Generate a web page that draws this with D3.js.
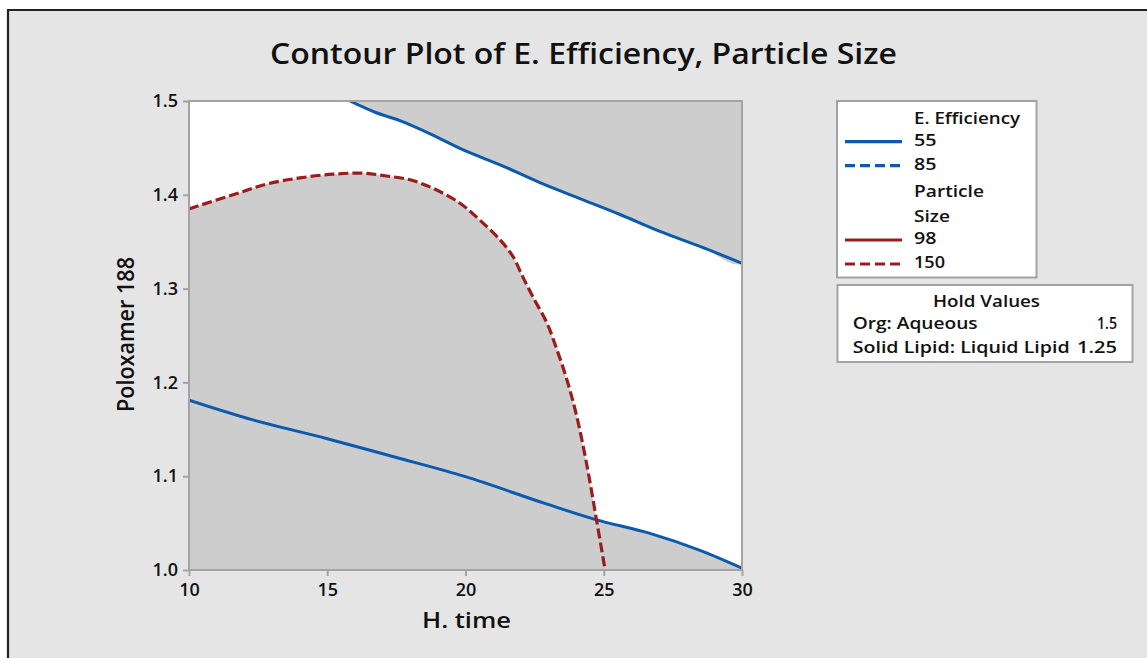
<!DOCTYPE html>
<html><head><meta charset="utf-8">
<script src="https://cdn.jsdelivr.net/npm/d3@7"></script>
<style>
html,body{margin:0;padding:0;background:#fff;}
svg{display:block;}
text{font-family:"Open Sans","Noto Sans",sans-serif;fill:#111;}
</style></head>
<body><svg id="c" width="1147" height="658"></svg>
<script>
// ---- data ----
const title = "Contour Plot of E. Efficiency, Particle Size";
const xLabel = "H. time";
const yLabel = "Poloxamer 188";
const xTicks = [10, 15, 20, 25, 30];
const yTicks = [1.0, 1.1, 1.2, 1.3, 1.4, 1.5];
// E. Efficiency contour (upper line)
const effUpperX = [15.82, 16.73, 17.63, 18.72, 19.98, 21.25, 22.69, 24.14, 25.59, 27.03, 28.48, 30.0];
const effUpperY = [1.500, 1.488, 1.479, 1.465, 1.447, 1.432, 1.413, 1.396, 1.379, 1.361, 1.345, 1.327];
// E. Efficiency contour (lower line)
const effLowerX = [10.0, 12.31, 15.0, 17.5, 20.0, 22.87, 24.68, 26.67, 28.48, 30.0];
const effLowerY = [1.181, 1.160, 1.140, 1.120, 1.0995, 1.071, 1.054, 1.039, 1.021, 1.002];
// Particle Size 150 contour (dashed)
const ps150X = [10.0, 11.59, 12.82, 14.01, 15.21, 16.29, 17.15, 17.99, 18.82, 19.80, 20.52, 21.25, 21.72, 22.08, 22.44, 22.95, 23.31, 23.67, 24.03, 24.42, 24.74, 25.05];
const ps150Y = [1.385, 1.400, 1.4115, 1.418, 1.422, 1.423, 1.420, 1.416, 1.407, 1.391, 1.373, 1.352, 1.334, 1.312, 1.291, 1.263, 1.2345, 1.2026, 1.163, 1.107, 1.053, 1.000];
const legendEff = ["55", "85"];
const legendPS = ["98", "150"];
const holdNames = ["Org: Aqueous", "Solid Lipid: Liquid Lipid"];
const holdVals = ["1.5", "1.25"];

const BLUE = "#0b5aad", RED = "#9b1c1c", GRAY = "#cdcdcd";

const svg = d3.select("#c");
// background frame
svg.append("rect").attr("x", 8).attr("y", 10).attr("width", 1147).attr("height", 658).attr("fill", "#e5e5e5");
svg.append("line").attr("x1", 7).attr("x2", 1147).attr("y1", 10).attr("y2", 10).attr("stroke", "#222").attr("stroke-width", 2.2);
svg.append("line").attr("x1", 8).attr("x2", 8).attr("y1", 9).attr("y2", 658).attr("stroke", "#222").attr("stroke-width", 2.2);

// text helper: fixed width with glyph stretching to mimic the source font
function T(parent, px, py, str, size, width, anchor) {
  const t = parent.append("text").attr("x", px).attr("y", py).attr("font-size", size)
    .attr("font-weight", 600).attr("text-anchor", anchor || "start").text(str);
  if (width) t.attr("textLength", width).attr("lengthAdjust", "spacingAndGlyphs");
  return t;
}

const x = d3.scaleLinear().domain([10, 30]).range([189, 742]);
const y = d3.scaleLinear().domain([1.0, 1.5]).range([570, 101]);

svg.append("defs").append("clipPath").attr("id", "pc")
  .append("rect").attr("x", x(10)).attr("y", y(1.5)).attr("width", x(30) - x(10)).attr("height", y(1.0) - y(1.5));

const g = svg.append("g").attr("clip-path", "url(#pc)");
g.append("rect").attr("x", x(10)).attr("y", y(1.5)).attr("width", x(30) - x(10)).attr("height", y(1.0) - y(1.5)).attr("fill", "#fff");

const zip = (xs, ys) => xs.map((v, i) => [v, ys[i]]);
const up = zip(effUpperX, effUpperY), lo = zip(effLowerX, effLowerY), ps = zip(ps150X, ps150Y);
const lineN = d3.line().x(d => x(d[0])).y(d => y(d[1])).curve(d3.curveCatmullRom);

// gray infeasible areas
g.append("path").attr("fill", GRAY).attr("d", lineN(up.concat([[30, 1.5], [up[0][0], 1.5]])));
g.append("path").attr("fill", GRAY).attr("d", lineN(lo.concat([[30, 1.0], [10, 1.0]])));
g.append("path").attr("fill", GRAY).attr("d", lineN(ps.concat([[10, 1.0]])));

// contour lines
g.append("path").attr("d", lineN(up)).attr("fill", "none").attr("stroke", BLUE).attr("stroke-width", 3);
g.append("path").attr("d", lineN(lo)).attr("fill", "none").attr("stroke", BLUE).attr("stroke-width", 3);
g.append("path").attr("d", lineN(ps)).attr("fill", "none").attr("stroke", RED).attr("stroke-width", 3.2).attr("stroke-dasharray", "10,4");

// plot border
svg.append("rect").attr("x", x(10)).attr("y", y(1.5)).attr("width", x(30) - x(10)).attr("height", y(1.0) - y(1.5))
  .attr("fill", "none").attr("stroke", "#a3a3a3").attr("stroke-width", 2);

// axes
const xa = svg.append("g").attr("transform", `translate(0,${y(1.0)})`)
  .call(d3.axisBottom(x).tickValues(xTicks).tickSize(6).tickPadding(7).tickFormat(d3.format("d")));
const ya = svg.append("g").attr("transform", `translate(${x(10)},0)`)
  .call(d3.axisLeft(y).tickValues(yTicks).tickSize(6).tickPadding(5).tickFormat(d3.format(".1f")));
[xa, ya].forEach(a => {
  a.select(".domain").remove();
  a.selectAll(".tick line").attr("stroke", "#a3a3a3").attr("stroke-width", 2);
  a.selectAll(".tick text").attr("font-family", "Open Sans").attr("font-size", 18).attr("font-weight", 600).attr("fill", "#111");
});

// titles
T(svg, 583.5, 64, title, 28, 627, "middle");
T(svg, 466.5, 628, xLabel, 22, 89, "middle");
T(svg, 0, 0, yLabel, 23, 155, "middle").attr("x", null).attr("y", null)
  .attr("transform", "translate(134,334.5) rotate(-90)");

// legend box
const lg = svg.append("g");
lg.append("rect").attr("x", 837).attr("y", 101).attr("width", 199.5).attr("height", 176.5).attr("fill", "#fff").attr("stroke", "#a3a3a3").attr("stroke-width", 2);
const lx1 = 845, lx2 = 902, tx = 914;
T(lg, tx, 124, "E. Efficiency", 17, 106);
legendEff.forEach((t, i) => {
  const yy = 141.7 + i * 24;
  lg.append("line").attr("x1", lx1).attr("x2", lx2).attr("y1", yy).attr("y2", yy).attr("stroke", BLUE).attr("stroke-width", 3.2)
    .attr("stroke-dasharray", i === 1 ? "10,5" : null);
  T(lg, tx, yy + 4.5, t, 17, 22.5);
});
T(lg, tx, 196.7, "Particle", 17, 70);
T(lg, tx, 221.5, "Size", 17, 36);
legendPS.forEach((t, i) => {
  const yy = 240 + i * 24;
  lg.append("line").attr("x1", lx1).attr("x2", lx2).attr("y1", yy).attr("y2", yy).attr("stroke", RED).attr("stroke-width", 3.2)
    .attr("stroke-dasharray", i === 1 ? "10,5" : null);
  T(lg, tx, yy + 3.5, t, 17, t.length === 3 ? 31 : 22.5);
});

// hold values box
const hg = svg.append("g");
hg.append("rect").attr("x", 837.5).attr("y", 285).attr("width", 295).attr("height", 77).attr("fill", "#fff").attr("stroke", "#a3a3a3").attr("stroke-width", 2);
T(hg, 986.5, 306.5, "Hold Values", 17, 107, "middle");
holdNames.forEach((n, i) => {
  const yy = 328.5 + i * 24.3;
  T(hg, 852.7, yy, n, 17, i === 0 ? 125 : 217);
  T(hg, 1117, yy, holdVals[i], 17, holdVals[i].length === 3 ? 20 : 40, "end");
});
</script></body></html>
